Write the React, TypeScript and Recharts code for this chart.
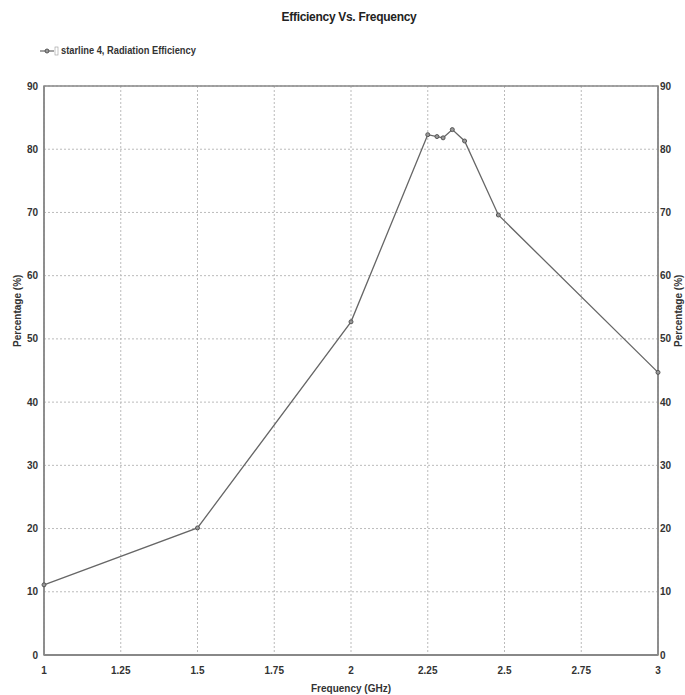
import React from "react";
import {
  LineChart,
  Line,
  XAxis,
  YAxis,
  CartesianGrid,
  ReferenceArea,
  Legend,
} from "recharts";

const frequencies = [1, 1.5, 2, 2.25, 2.28, 2.3, 2.33, 2.37, 2.48, 3];
const efficiency = [11.1, 20.1, 52.7, 82.3, 82.0, 81.8, 83.1, 81.3, 69.6, 44.7];
const xTicks = [1, 1.25, 1.5, 1.75, 2, 2.25, 2.5, 2.75, 3];
const yTicks = [0, 10, 20, 30, 40, 50, 60, 70, 80, 90];
const seriesName = "starline 4, Radiation Efficiency";
const title = "Efficiency Vs. Frequency";
const yLabel = "Percentage (%)";
const xLabel = "Frequency (GHz)";

const data = frequencies.map((f, i) => ({ f, v: efficiency[i] }));

const FONT = "'Liberation Sans', Arial, sans-serif";
const textStyle = { fontSize: 10, fill: "#333", fontFamily: FONT, fontWeight: "bold" as const };

const LegendContent = () => (
  <div
    style={{
      display: "flex",
      alignItems: "center",
      fontFamily: FONT,
      fontSize: 10,
      fontWeight: "bold",
      color: "#333",
    }}
  >
    <svg width={20} height={10}>
      <line x1={1} y1={5} x2={15} y2={5} stroke="#666" strokeWidth={1.2} />
      <circle cx={8} cy={5} r={2} fill="#999" stroke="#555" />
      <rect x={16} y={1} width={3} height={8} fill="none" stroke="#999" strokeWidth={0.6} />
    </svg>
    <span style={{ marginLeft: 2, display: "inline-block", transform: "scaleX(0.93)", transformOrigin: "left center", whiteSpace: "nowrap" }}>
      {seriesName}
    </span>
  </div>
);

const makeYLabel = (xPos: number) => (props: any) => {
  const vb = props.viewBox || {};
  const y = (vb.y ?? 75) + (vb.height ?? 580) * 0.395;
  return (
    <text
      x={xPos}
      y={y}
      transform={`rotate(-90, ${xPos}, ${y})`}
      textAnchor="middle"
      dominantBaseline="central"
      style={textStyle}
    >
      {yLabel}
    </text>
  );
};

export default function App() {
  return (
    <div style={{ position: "absolute", left: 0, top: 0, width: 685, height: 695, background: "#fff" }}>
      <div
        style={{
          position: "absolute",
          top: 10,
          left: 0,
          width: 698,
          textAlign: "center",
          fontFamily: FONT,
          fontSize: 12,
          fontWeight: "bold",
          color: "#222",
          letterSpacing: -0.3,
        }}
      >
        {title}
      </div>
      <LineChart
        width={685}
        height={695}
        data={data}
        margin={{ top: 75, right: 0, left: 0, bottom: 0 }}
      >
        <CartesianGrid yAxisId="left" stroke="#bbb" strokeDasharray="2 2" />
        <XAxis
          dataKey="f"
          type="number"
          domain={[1, 3]}
          ticks={xTicks}
          height={40}
          tickLine={false}
          axisLine={{ stroke: "#888", strokeWidth: 2 }}
          tick={textStyle}
          tickMargin={6}
          label={{
            value: xLabel,
            position: "insideBottom",
            offset: 3,
            style: textStyle,
          }}
        />
        <YAxis
          yAxisId="left"
          orientation="left"
          type="number"
          domain={[0, 90]}
          ticks={yTicks}
          width={44}
          tickLine={false}
          axisLine={{ stroke: "#888", strokeWidth: 1.5 }}
          tick={textStyle}
          tickMargin={0}
          label={{ content: makeYLabel(18) }}
        />
        <YAxis
          yAxisId="right"
          orientation="right"
          type="number"
          domain={[0, 90]}
          ticks={yTicks}
          width={27}
          tickLine={false}
          axisLine={{ stroke: "#888", strokeWidth: 1.5 }}
          tick={textStyle}
          tickMargin={-4}
          label={{ content: makeYLabel(679) }}
        />
        <ReferenceArea
          yAxisId="left"
          x1={1}
          x2={3}
          y1={0}
          y2={90}
          fill="none"
          stroke="#888"
          strokeWidth={1.5}
        />
        <Legend
          verticalAlign="top"
          align="left"
          content={<LegendContent />}
          wrapperStyle={{ position: "absolute", top: 45, left: 39, width: 300 }}
        />
        <Line
          yAxisId="right"
          dataKey="v"
          stroke="none"
          dot={false}
          activeDot={false}
          legendType="none"
          isAnimationActive={false}
        />
        <Line
          yAxisId="left"
          dataKey="v"
          name={seriesName}
          stroke="#666"
          strokeWidth={1.3}
          dot={{ r: 2, fill: "#999", stroke: "#555", strokeWidth: 1 }}
          isAnimationActive={false}
        />
      </LineChart>
    </div>
  );
}
